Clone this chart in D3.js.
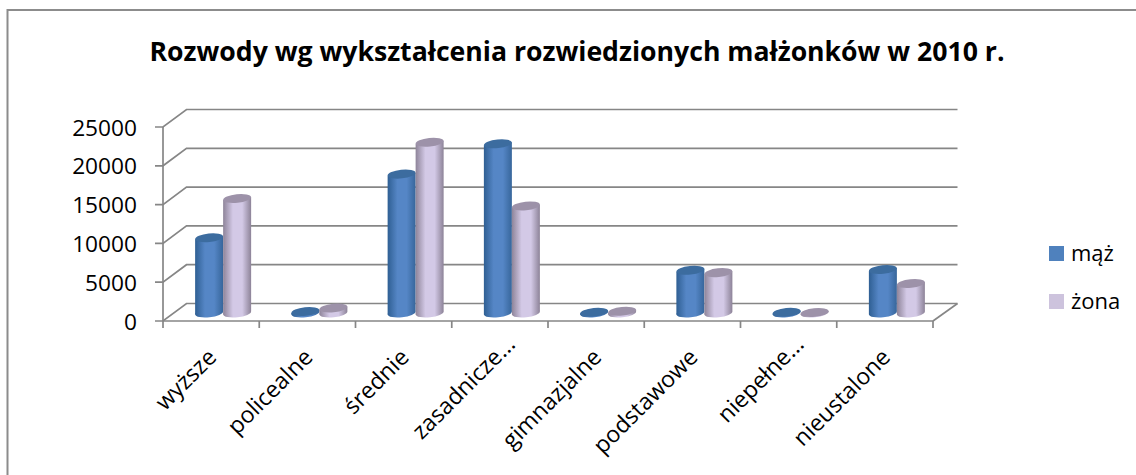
<!DOCTYPE html>
<html><head><meta charset="utf-8">
<script src="https://cdn.jsdelivr.net/npm/d3@7/dist/d3.min.js"></script>
<style>html,body{margin:0;background:#fff}svg{display:block}text{font-family:"Open Sans",sans-serif;fill:#000}</style>
</head><body><svg id="c" width="1136" height="475"></svg>
<script>
const categories=["wyższe","policealne","średnie","zasadnicze...","gimnazjalne","podstawowe","niepełne...","nieustalone"];
const maz=[9700,200,17900,21800,100,5500,100,5600];
const zona=[14750,650,22000,13800,220,5200,60,3800];
const seriesNames=["mąż","żona"];
const yTicks=[0,5000,10000,15000,20000,25000];
const title="Rozwody wg wykształcenia rozwiedzionych małżonków w 2010 r.";

const svg=d3.select("#c");
const grid="#868686";
const x=d3.scaleBand().domain(categories).range([163,933]);
const y=d3.scaleLinear().domain([0,25000]).range([321,127]);
const dx=23.5,dy=17.5;

const defs=svg.append("defs");
function grad(id,edgeL,mid,edgeR){
  const g=defs.append("linearGradient").attr("id",id);
  [[0,edgeL],[.35,mid],[.68,mid],[1,edgeR]].forEach(s=>g.append("stop").attr("offset",s[0]).attr("stop-color",s[1]));
}
grad("g0","#2f5f93","#5586c6","#37669b");
grad("g1","#8e8499","#d3c9e6","#8d8398");

// frame
svg.append("path").attr("d","M7.5,475V10H1136").attr("fill","none").attr("stroke","#8c8c8c").attr("stroke-width",2);

svg.append("text").attr("x",577).attr("y",61).attr("text-anchor","middle")
  .attr("font-size",26).attr("font-weight",700).attr("textLength",855).attr("lengthAdjust","spacingAndGlyphs").text(title);

// walls
const g=svg.append("g").attr("fill","none").attr("stroke",grid).attr("stroke-width",1.7);
yTicks.forEach(t=>{
  const p=d3.path();
  p.moveTo(155,y(t));p.lineTo(163,y(t));p.lineTo(163+dx,y(t)-dy);p.lineTo(933+dx+1,y(t)-dy);
  g.append("path").attr("d",p.toString());
});
g.append("line").attr("x1",163).attr("x2",163).attr("y1",y(25000)).attr("y2",y(0)+7);
g.append("line").attr("x1",163).attr("x2",933).attr("y1",y(0)).attr("y2",y(0));
g.append("line").attr("x1",933).attr("x2",933+dx+1).attr("y1",y(0)).attr("y2",y(0)-dy);
categories.forEach(c=>g.append("line").attr("x1",x(c)+x.bandwidth()).attr("x2",x(c)+x.bandwidth()).attr("y1",y(0)).attr("y2",y(0)+7));

// y labels
yTicks.forEach(t=>svg.append("text").attr("x",137).attr("y",y(t)+8.5).attr("text-anchor","end").attr("font-size",22.7).text(t));

// cylinders
const rx=14,ry=4.3,tilt=-6,baseOff=8;
const topCol=["#3c6c9f","#9d92a9"];
const faceFlat=["#4f81bd","#cdc3dd"];
function cyl(cx,v,i){
  const yb=y(0)-baseOff, yt=y(v)-baseOff;
  const n=svg.append("g");
  n.append("ellipse").attr("cx",cx).attr("cy",yb).attr("rx",rx).attr("ry",ry).attr("transform",`rotate(${tilt} ${cx} ${yb})`).attr("fill",`url(#g${i})`);
  const s=Math.sin(tilt*Math.PI/180)*rx;
  n.append("path").attr("d",`M${cx-rx},${yt-s}L${cx+rx},${yt+s}L${cx+rx},${yb+s}L${cx-rx},${yb-s}Z`).attr("fill",`url(#g${i})`);
  n.append("ellipse").attr("cx",cx).attr("cy",yt).attr("rx",rx).attr("ry",ry).attr("transform",`rotate(${tilt} ${cx} ${yt})`).attr("fill",topCol[i]);
}
categories.forEach((c,k)=>{
  const mid=x(c)+x.bandwidth()/2+12;
  cyl(mid-14,maz[k],0);
  cyl(mid+14,zona[k],1);
});

// category labels
categories.forEach(c=>{
  const cut=c.endsWith("...");
  const px=x(c)+x.bandwidth()/2+(cut?11:1), py=cut?340:353;
  svg.append("text").attr("transform",`translate(${px},${py}) rotate(-45)`).attr("text-anchor","end").attr("font-size",23).attr("dy","0.35em").text(c);
});

// legend
seriesNames.forEach((s,i)=>{
  const ly=246+i*48;
  svg.append("rect").attr("x",1049).attr("y",ly).attr("width",15).attr("height",15).attr("fill",faceFlat[i]);
  svg.append("text").attr("x",1071).attr("y",ly+15).attr("font-size",22).text(s);
});
</script></body></html>
